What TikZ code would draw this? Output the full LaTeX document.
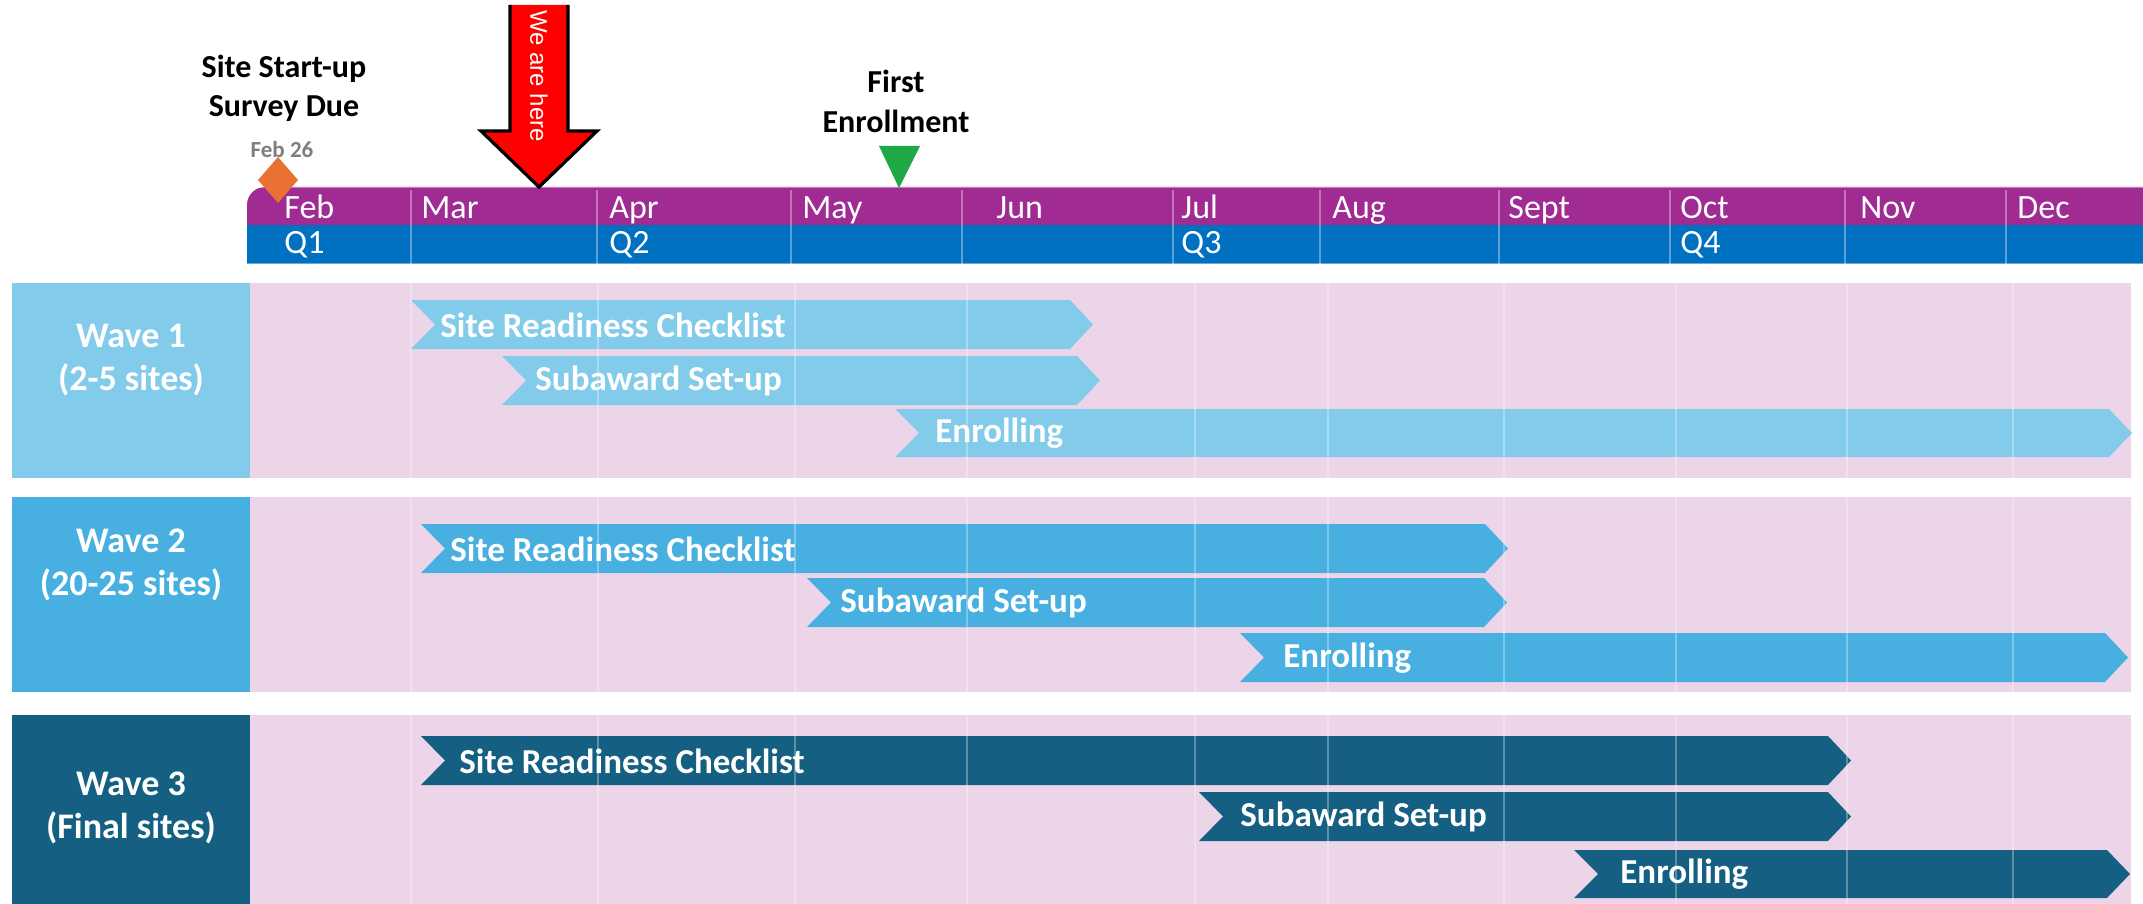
\documentclass[tikz,border=0pt]{standalone}
\usepackage{fontspec}
\setmainfont{Carlito}
\newfontfamily\arialfont{Liberation Sans}
\definecolor{tlpurple}{HTML}{A02B93}
\definecolor{tlblue}{HTML}{0070C0}
\definecolor{rowpink}{HTML}{ECD5E9}
\definecolor{waveA}{HTML}{83CBEB}
\definecolor{waveB}{HTML}{47B0E0}
\definecolor{waveC}{HTML}{156082}
\definecolor{msorange}{HTML}{E97132}
\definecolor{msgreen}{HTML}{1FA846}
\definecolor{febgray}{HTML}{7F7F7F}
\newcommand\chevbar[5]{% left, tip, top, bottom, colour
  \fill[#5] (#1,#3) -- (#2-23,#3) -- (#2,{(#3+#4)/2}) -- (#2-23,#4) -- (#1,#4) -- (#1+24,{(#3+#4)/2}) -- cycle;}
\tikzset{
  month/.style={anchor=base west, inner sep=0pt, text=white, font=\fontsize{17}{20}\selectfont},
  barlabel/.style={anchor=west, inner sep=0pt, text=white, font=\fontsize{17.5}{20}\selectfont\bfseries},
  wavelabel/.style={anchor=base, inner sep=0pt, text=white, font=\fontsize{18}{21}\selectfont\bfseries},
  milestone/.style={anchor=base, inner sep=0pt, text=black, font=\fontsize{16}{19}\selectfont\bfseries},
  gridline/.style={white, opacity=0.3, line width=0.6pt},
  tlsep/.style={white, opacity=0.35, line width=0.6pt}
}
\begin{document}
\begin{tikzpicture}[x=0.5pt, y=-0.5pt]
\useasboundingbox (0,0) rectangle (2143,904);
\fill[white] (0,0) rectangle (2143,904);
% rows
\fill[rowpink] (250,283) rectangle (2131,478);
\fill[rowpink] (250,497) rectangle (2131,692);
\fill[rowpink] (250,715) rectangle (2131,904);
\fill[waveA] (12,283) rectangle (250,478);
\fill[waveB] (12,497) rectangle (250,692);
\fill[waveC] (12,715) rectangle (250,904);
% bars
\chevbar{411}{1093}{300}{349}{waveA}
\chevbar{502}{1100}{356}{405}{waveA}
\chevbar{895}{2132}{409}{457}{waveA}
\chevbar{421}{1508}{524}{573}{waveB}
\chevbar{807}{1507}{578}{627}{waveB}
\chevbar{1240}{2128}{633}{682}{waveB}
\chevbar{421}{1851}{736}{785}{waveC}
\chevbar{1199}{1851}{792}{841}{waveC}
\chevbar{1574}{2130}{850}{898}{waveC}
% grid lines
\foreach \gx in {411,598,795,967,1195,1328,1504,1676,1847,2013}{
  \draw[gridline] (\gx,283) -- (\gx,478);
  \draw[gridline] (\gx,497) -- (\gx,692);
  \draw[gridline] (\gx,715) -- (\gx,904);
}
% bar labels
\node[barlabel] (w1src) at (440,325) {Site Readiness Checklist};
\node[barlabel] (w1sub) at (535,381) {Subaward Set-up};
\node[barlabel] (w1enr) at (935,433) {Enrolling};
\node[barlabel] (w2src) at (450,549) {Site Readiness Checklist};
\node[barlabel] (w2sub) at (840,603) {Subaward Set-up};
\node[barlabel] (w2enr) at (1283,658) {Enrolling};
\node[barlabel] (w3src) at (459,761) {Site Readiness Checklist};
\node[barlabel] (w3sub) at (1240,817) {Subaward Set-up};
\node[barlabel] (w3enr) at (1620,874) {Enrolling};
% wave labels
\node[wavelabel] (w1a) at (131,347) {Wave 1};
\node[wavelabel] (w1b) at (131,390) {(2-5 sites)};
\node[wavelabel] (w2a) at (131,552) {Wave 2};
\node[wavelabel] (w2b) at (131,595) {(20-25 sites)};
\node[wavelabel] (w3a) at (131,795) {Wave 3};
\node[wavelabel] (w3b) at (131,838) {(Final sites)};
% timeline
\fill[tlpurple] (247,225) [rounded corners=9pt] -- (247,187) [sharp corners] -- (2143,187) -- (2143,225) -- cycle;
\fill[tlblue] (247,225) rectangle (2143,264);
\draw[white, opacity=0.4, line width=0.6pt] (250,187.5) -- (2143,187.5);
\draw[white, opacity=0.4, line width=0.6pt] (247,264) -- (2143,264);
\foreach \sx in {411,597,791,962,1173,1320,1499,1670,1845,2006}{
  \draw[tlsep] (\sx,190) -- (\sx,264);
}
\foreach \mx/\mt [count=\mi] in {284/Feb,421/Mar,609/Apr,802/May,996/Jun,1181/Jul,1332/Aug,1508/Sept,1680/Oct,1860/Nov,2017/Dec}{
  \node[month] (m\mi) at (\mx,219) {\mt};
}
\node[month] (q1) at (284,253) {Q1};
\node[month] (q2) at (609,253) {Q2};
\node[month] (q3) at (1181,253) {Q3};
\node[month] (q4) at (1680,253) {Q4};
% milestones
\fill[msorange] (278,157) -- (298,180) -- (278,203) -- (258,180) -- cycle;
\node[anchor=base, inner sep=0pt, text=febgray, font=\fontsize{11.5}{13}\selectfont\bfseries] (feb26) at (282,157) {Feb 26};
\node[milestone] (ss1) at (284,78) {Site Start-up};
\node[milestone] (ss2) at (284,117) {Survey Due};
\fill[msgreen] (879,146) -- (920,146) -- (899,188) -- cycle;
\node[milestone] (fe1) at (896,93) {First};
\node[milestone] (fe2) at (896,133) {Enrollment};
% we are here arrow
\fill[red] (510,5) -- (568,5) -- (568,131) -- (597,131) -- (539,187) -- (481,131) -- (510,131) -- cycle;
\draw[black, line width=1.6pt, line join=miter] (568,5) -- (568,131) -- (597,131) -- (539,187) -- (481,131) -- (510,131) -- (510,5);
\node[rotate=-90, inner sep=0pt, text=white, font=\arialfont\fontsize{12}{14}\selectfont] (here) at (539,76) {We are here};
\end{tikzpicture}
\end{document}
